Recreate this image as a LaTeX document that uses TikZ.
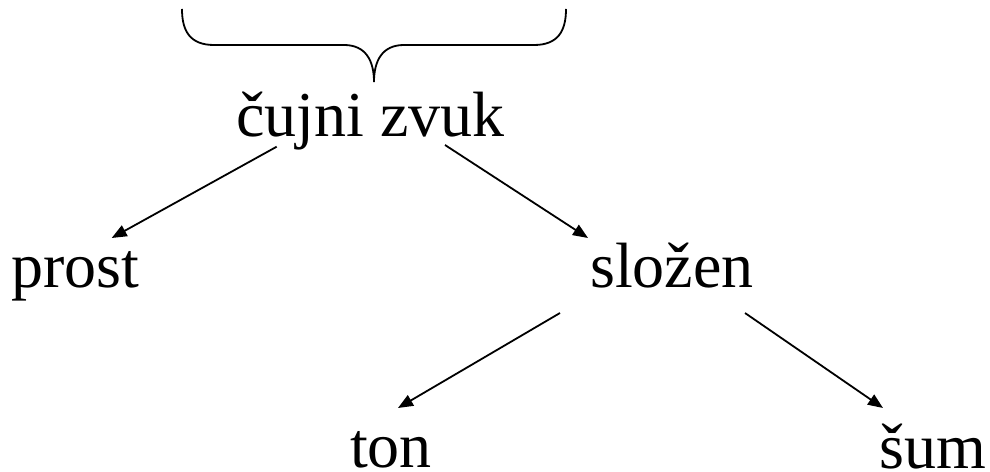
\documentclass[tikz,border=0pt]{standalone}
\usepackage{fontspec}
\setmainfont{Liberation Serif}
\usetikzlibrary{arrows.meta}
\begin{document}
\begin{tikzpicture}[x=1pt,y=1pt,
  term/.style={anchor=base west,inner sep=0pt,text depth=0pt,font=\fontsize{64}{76}\selectfont},
  arr/.style={line width=1.8pt,-{Triangle[length=15pt,width=12pt]}},
  bracket/.style={line width=1.8pt}]
\useasboundingbox (0,0) rectangle (990,471);

% terms of the classification tree
\node[term] (cz)    at (236,334) {čujni zvuk};
\node[term] (prost) at (11,183)  {prost};
\node[term] (slozen) at (590,183) {složen};
\node[term] (ton)   at (350,4)   {ton};
\node[term] (sum)   at (879,3)   {šum};

% brace over the root term
\draw[bracket] (182,462) .. controls (182,440) and (190,426) .. (214,426)
  -- (344,426) .. controls (366,426) and (374,410) .. (374,389)
  .. controls (374,410) and (382,426) .. (404,426)
  -- (534,426) .. controls (558,426) and (566,440) .. (566,462);

% branches
\draw[arr] ([shift={(40.7,-9.7)}]cz.base west) -- ([shift={(100.7,50)}]prost.base west);
\draw[arr] ([shift={(209,-8)}]cz.base west) -- ([shift={(-2,50)}]slozen.base west);
\draw[arr] ([shift={(-30,-25)}]slozen.base west) -- ([shift={(48,59)}]ton.base west);
\draw[arr] ([shift={(155,-25)}]slozen.base west) -- ([shift={(4,60)}]sum.base west);
\end{tikzpicture}
\end{document}
